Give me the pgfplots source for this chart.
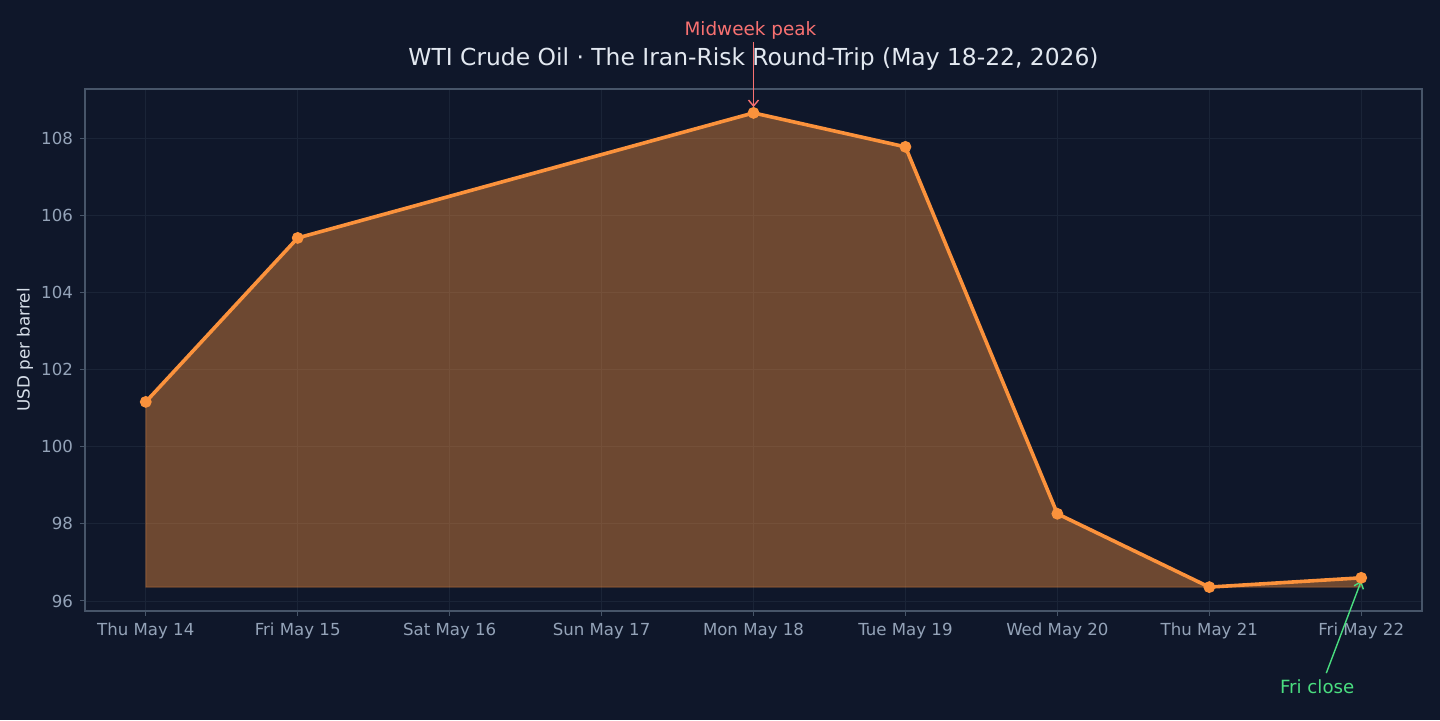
\documentclass[border=0pt]{standalone}
\usepackage{pgfplots}
\pgfplotsset{compat=1.18}
\usetikzlibrary{arrows.meta}
\usepackage{fontspec}
\setmainfont{DejaVu Sans}
\definecolor{bg}{HTML}{0F172A}
\definecolor{org}{HTML}{FB923C}
\definecolor{tickc}{HTML}{94A3B8}
\definecolor{titlec}{HTML}{E2E8F0}
\definecolor{spine}{HTML}{475569}
\definecolor{gridc}{HTML}{1A2437}
\definecolor{redc}{HTML}{F87171}
\definecolor{greenc}{HTML}{4ADE80}
\begin{document}
\begin{tikzpicture}[x=1pt,y=1pt]
\fill[bg] (0,0) rectangle (720,360);
\begin{axis}[
  at={(42.5pt,54.5pt)}, anchor=south west,
  width=668.5pt, height=261pt, scale only axis,
  xmin=-0.4, xmax=8.4, ymin=95.74, ymax=109.27,
  xtick={0,1,2,3,4,5,6,7,8},
  xticklabels={Thu May 14,Fri May 15,Sat May 16,Sun May 17,Mon May 18,Tue May 19,Wed May 20,Thu May 21,Fri May 22},
  ytick={96,98,100,102,104,106,108},
  /pgf/number format/assume math mode=true,
  tick label style={font=\fontsize{8.3}{10}\selectfont, text=tickc},
  tick align=outside, major tick length=2.5pt,
  tick style={spine, line width=0.5pt},
  xtick pos=bottom, ytick pos=left,
  axis line style={spine, line width=0.6pt},
  grid=major, major grid style={gridc, line width=0.4pt},
  clip=false,
]
\addplot[fill=org, fill opacity=0.4, draw=org, draw opacity=0.35, line width=0.5pt] coordinates {
(0,96.36) (0,101.16) (1,105.41) (4,108.65) (5,107.77) (6,98.26) (7,96.36) (8,96.6) (8,96.36)} -- cycle;
\addplot[org, line width=1.8pt, mark=*, mark size=2.7pt, mark options={fill=org, draw=org, line width=0.5pt}] coordinates {
(0,101.16) (1,105.41) (4,108.65) (5,107.77) (6,98.26) (7,96.36) (8,96.6)};
\draw[-{Straight Barb[length=3pt,width=5pt]}, redc, line width=0.7pt] (axis cs:4,110.49) -- (axis cs:4,108.8);
\node[text=redc, font=\fontsize{9.2}{10}\selectfont] at (axis cs:3.98,110.8) {Midweek peak};
\draw[-{Straight Barb[length=3pt,width=5pt]}, greenc, line width=0.7pt] (axis cs:7.77,94.13) -- (axis cs:8,96.52);
\node[text=greenc, font=\fontsize{9.1}{10}\selectfont] at (axis cs:7.71,93.77) {Fri close};
\node[text=titlec, font=\fontsize{11.7}{13}\selectfont, anchor=base, yshift=12pt] at (rel axis cs:0.5,1) {WTI Crude Oil · The Iran-Risk Round-Trip (May 18-22, 2026)};
\node[text=titlec!85!tickc, font=\fontsize{8.4}{10}\selectfont, rotate=90, yshift=30pt] at (rel axis cs:0,0.5) {USD per barrel};
\end{axis}
\end{tikzpicture}
\end{document}
